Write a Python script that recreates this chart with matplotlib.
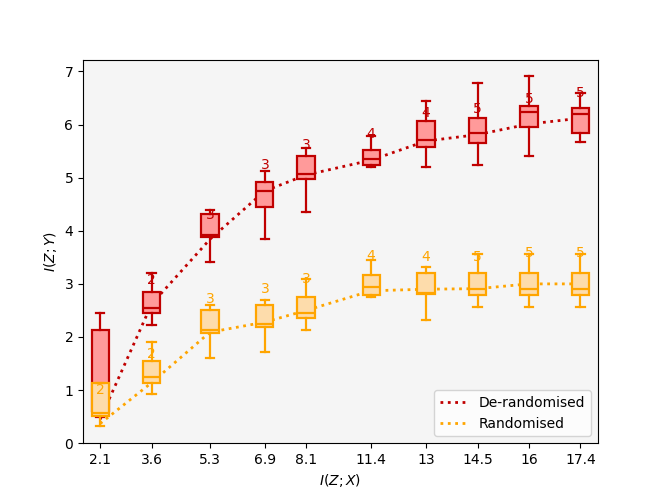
import matplotlib

matplotlib.use("Agg")
import matplotlib.pyplot as plt

# x positions of the boxes and the tick labels shown under them
positions = [2.1, 3.6, 5.3, 6.9, 8.1, 10.0, 11.6, 13.1, 14.6, 16.1]
tick_labels = ["2.1", "3.6", "5.3", "6.9", "8.1", "11.4", "13", "14.5", "16", "17.4"]

# De-randomised
derand_whislo = [0.50, 2.22, 3.42, 3.85, 4.36, 5.20, 5.20, 5.24, 5.41, 5.67]
derand_q1 = [0.60, 2.45, 3.88, 4.44, 4.97, 5.24, 5.57, 5.65, 5.96, 5.85]
derand_med = [1.00, 2.54, 3.92, 4.74, 5.07, 5.35, 5.71, 5.85, 6.23, 6.20]
derand_q3 = [2.14, 2.85, 4.32, 4.91, 5.41, 5.52, 6.06, 6.12, 6.34, 6.31]
derand_whishi = [2.45, 3.21, 4.39, 5.13, 5.56, 5.79, 6.45, 6.78, 6.91, 6.60]
derand_line = [0.45, 2.62, 3.84, 4.75, 5.05, 5.33, 5.69, 5.81, 6.01, 6.12]
derand_counts = [2, 2, 3, 3, 3, 4, 4, 5, 5, 5]
derand_count_y = [1.00, 3.07, 4.30, 5.24, 5.62, 5.83, 6.22, 6.29, 6.48, 6.60]

# Randomised
rand_whislo = [0.33, 0.92, 1.61, 1.72, 2.13, 2.76, 2.32, 2.57, 2.57, 2.57]
rand_q1 = [0.51, 1.14, 2.08, 2.19, 2.35, 2.79, 2.81, 2.80, 2.79, 2.80]
rand_med = [0.57, 1.25, 2.13, 2.24, 2.46, 2.95, 2.83, 2.90, 2.90, 2.90]
rand_q3 = [1.13, 1.55, 2.51, 2.60, 2.75, 3.17, 3.21, 3.20, 3.20, 3.20]
rand_whishi = [1.13, 1.91, 2.61, 2.70, 3.10, 3.45, 3.31, 3.56, 3.56, 3.56]
rand_line = [0.37, 1.14, 2.09, 2.28, 2.50, 2.87, 2.90, 2.91, 3.00, 3.00]
rand_counts = [2, 2, 3, 3, 3, 4, 4, 5, 5, 5]
rand_count_y = [1.00, 1.68, 2.71, 2.90, 3.10, 3.53, 3.50, 3.50, 3.58, 3.58]


def _stats(whislo, q1, med, q3, whishi):
    return [
        dict(whislo=a, q1=b, med=c, q3=d, whishi=e, fliers=[])
        for a, b, c, d, e in zip(whislo, q1, med, q3, whishi)
    ]


def _draw(ax, stats, line, counts, count_y, edge, face, label, z):
    ax.plot(positions, line, ls=":", lw=2, color=edge, label=label, zorder=1.2)
    ax.bxp(
        stats,
        positions=positions,
        widths=0.5,
        patch_artist=True,
        showfliers=False,
        manage_ticks=False,
        zorder=z,
        boxprops=dict(facecolor=face, edgecolor=edge, linewidth=1.6),
        medianprops=dict(color=edge, linewidth=1.6),
        whiskerprops=dict(color=edge, linewidth=1.6),
        capprops=dict(color=edge, linewidth=1.6),
    )
    for x, n, y in zip(positions, counts, count_y):
        ax.text(x, y, str(n), color=edge, ha="center", va="center",
                fontsize=10, zorder=z + 0.15)


fig, ax = plt.subplots(figsize=(6.64, 4.98), dpi=100)
ax.set_facecolor("#f5f5f5")

# randomised boxes sit above the de-randomised ones
_draw(ax, _stats(derand_whislo, derand_q1, derand_med, derand_q3, derand_whishi),
      derand_line, derand_counts, derand_count_y, "#c00000", "#ff9a9a", "De-randomised", 1.5)
_draw(ax, _stats(rand_whislo, rand_q1, rand_med, rand_q3, rand_whishi),
      rand_line, rand_counts, rand_count_y, "#ffa500", "#fddcab", "Randomised", 2.0)

ax.set_xticks(positions, tick_labels)
ax.set_xlim(positions[0] - 0.5, positions[-1] + 0.5)
ax.set_ylim(0, 7.22)
ax.set_xlabel("$I(Z; X)$")
ax.set_ylabel("$I(Z; Y)$")
ax.legend(loc="lower right")

fig.savefig("out.png", dpi=100)
plt.close(fig)
